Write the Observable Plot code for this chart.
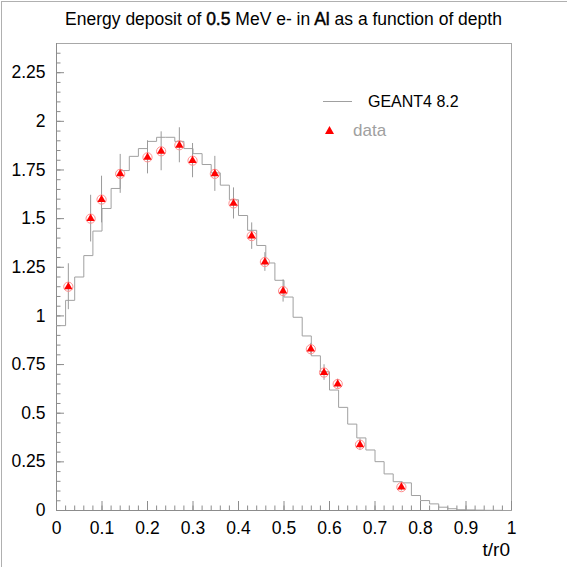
<!DOCTYPE html>
<html>
<head>
<meta charset="utf-8">
<script src="https://cdn.jsdelivr.net/npm/d3@7"></script>
<script src="https://cdn.jsdelivr.net/npm/@observablehq/plot@0.6"></script>
<style>
  body { margin: 0; background: #fff; }
  #wrap { position: relative; width: 567px; height: 567px; overflow: hidden; font-family: "Liberation Sans", Arial, sans-serif; background: #fff; }
  #wrap svg { position: absolute; left: 0; top: 0; }
  .abs { position: absolute; white-space: nowrap; }
  #border { position: absolute; left: 1px; top: 1px; width: 566px; height: 566px; border-left: 1px solid #b0b0b0; border-top: 1px solid #b0b0b0; box-sizing: border-box; pointer-events: none; }
  #title { left: 0; width: 567px; top: 11px; text-align: center; font-size: 17.5px; line-height: 17.5px; color: #000; }
  #title span.hb { -webkit-text-stroke: 0.45px #000; }
  #xlabel { right: 57px; top: 540px; font-size: 19px; line-height: 19px; color: #000; }
  #legLine { left: 323px; top: 101px; width: 29px; height: 0; border-top: 1px solid #a0a0a0; }
  #legG { left: 368px; top: 94px; font-size: 16px; line-height: 16px; color: #000; }
  #legTri { left: 325px; top: 126px; }
  #legD { left: 353px; top: 122px; font-size: 17px; line-height: 17px; color: #a0a0a0; }
</style>
</head>
<body>
<div id="wrap"></div>
<script>
// ---- Data ----
// Histogram (GEANT4 8.2), 50 bins of width 0.02 on t/r0
const binEdges = [0,0.02,0.04,0.06,0.08,0.1,0.12,0.14,0.16,0.18,0.2,0.22,0.24,0.26,0.28,0.3,0.32,0.34,0.36,0.38,0.4,0.42,0.44,0.46,0.48,0.5,0.52,0.54,0.56,0.58,0.6,0.62,0.64,0.66,0.68,0.7,0.72,0.74,0.76,0.78,0.8,0.82,0.84,0.86,0.88,0.9,0.92,0.94,0.96,0.98,1.0];
const geantValues = [0.95,1.08,1.20,1.31,1.436,1.552,1.655,1.747,1.82,1.86,1.897,1.918,1.918,1.897,1.86,1.834,1.778,1.735,1.672,1.597,1.516,1.44,1.362,1.272,1.183,1.097,0.993,0.897,0.795,0.713,0.619,0.53,0.444,0.373,0.311,0.251,0.188,0.148,0.142,0.077,0.051,0.034,0.017,0.009,0.004,0.003,0.002,0.001,0.001,0];

// Experimental data
const dataX   = [0.026,0.075,0.099,0.14,0.2,0.23,0.27,0.299,0.348,0.389,0.429,0.458,0.498,0.559,0.588,0.618,0.667,0.758];
const dataY   = [1.15,1.50,1.598,1.73,1.815,1.846,1.877,1.798,1.73,1.578,1.41,1.277,1.128,0.829,0.709,0.65,0.338,0.12];
const dataErr = [0.118,0.12,0.12,0.10,0.085,0.10,0.09,0.088,0.09,0.08,0.068,0.048,0.057,0.03,0.04,0.025,0.03,0.02];

// Axis ticks
const xMajor = [0,0.1,0.2,0.3,0.4,0.5,0.6,0.7,0.8,0.9,1];
const xMajorLabels = ["0","0.1","0.2","0.3","0.4","0.5","0.6","0.7","0.8","0.9","1"];
const yMajor = [0,0.25,0.5,0.75,1,1.25,1.5,1.75,2,2.25];
const yMajorLabels = ["0","0.25","0.5","0.75","1","1.25","1.5","1.75","2","2.25"];
const xMinor = d3.range(0, 51).map(i => i / 50);
const yMinor = d3.range(0, 48).map(i => i / 20);

// ---- Derived tables ----
const hist = binEdges.map((x, i) => ({x, y: geantValues[Math.min(i, geantValues.length - 1)]}));
const points = dataX.map((x, i) => ({x, y: dataY[i], e: dataErr[i]}));

const xLab = new Map(xMajor.map((v, i) => [v, xMajorLabels[i]]));
const yLab = new Map(yMajor.map((v, i) => [v, yMajorLabels[i]]));

const axisColor = "#8c8c8c";

const chart = Plot.plot({
  width: 567,
  height: 567,
  marginLeft: 56,
  marginRight: 56,
  marginTop: 43,
  marginBottom: 57,
  x: {domain: [0, 1]},
  y: {domain: [0, 2.4]},
  style: {fontFamily: "'Liberation Sans', Arial, sans-serif", fontSize: "17px", color: "#000", background: "transparent", overflow: "visible"},
  marks: [
    Plot.frame({stroke: "#a8a8a8"}),
    // minor ticks (inward)
    Plot.axisX(xMinor, {anchor: "bottom", tickSize: -4.5, tickFormat: () => "", label: null, stroke: axisColor}),
    Plot.axisY(yMinor, {anchor: "left", tickSize: -4.5, tickFormat: () => "", label: null, stroke: axisColor}),
    // major ticks (inward)
    Plot.axisX(xMajor, {anchor: "bottom", tickSize: -9, tickFormat: () => "", label: null, stroke: axisColor}),
    Plot.axisY(yMajor, {anchor: "left", tickSize: -8, tickFormat: () => "", label: null, stroke: axisColor}),
    // labels
    Plot.axisX(xMajor, {anchor: "bottom", tickSize: 0, tickPadding: 11, tickFormat: d => xLab.get(d), label: null, fontSize: 17.5, fill: "#000"}),
    Plot.axisY(yMajor, {anchor: "left", tickSize: 0, tickPadding: 11, tickFormat: d => yLab.get(d), label: null, fontSize: 17.5, fill: "#000"}),
    // axis lines
    Plot.ruleY([0], {stroke: axisColor}),
    Plot.ruleX([0], {stroke: axisColor}),
    // GEANT4 histogram
    Plot.line(hist, {x: "x", y: "y", curve: "step-after", stroke: "#a0a0a0", strokeWidth: 1}),
    // data error bars
    Plot.ruleX(points, {x: "x", y1: d => d.y - d.e, y2: d => d.y + d.e, stroke: "#9a9a9a", strokeWidth: 1}),
    // data markers
    Plot.dot(points, {x: "x", y: "y", r: 4.6, stroke: "#ff8c8c", strokeWidth: 1, fill: "none"}),
    Plot.dot(points, {x: "x", y: "y", symbol: "triangle", r: 3.1, fill: "#ff0000", stroke: "none"})
  ]
});

const wrap = document.getElementById("wrap");
wrap.appendChild(chart);

function addDiv(id, html) {
  const d = document.createElement("div");
  d.id = id;
  d.className = "abs";
  d.innerHTML = html;
  wrap.appendChild(d);
  return d;
}
addDiv("title", 'Energy deposit of <span class="hb">0.5</span> MeV e- in <span class="hb">Al</span> as a function of depth');
addDiv("xlabel", "t/r0");
addDiv("legLine", "");
addDiv("legG", "GEANT4 8.2");
addDiv("legTri", '<svg width="9" height="8" style="display:block;position:static"><polygon points="0,8 4.5,0 9,8" fill="#ff0000"/></svg>');
addDiv("legD", "data");
const b = document.createElement("div");
b.id = "border";
wrap.appendChild(b);
</script>
</body>
</html>
